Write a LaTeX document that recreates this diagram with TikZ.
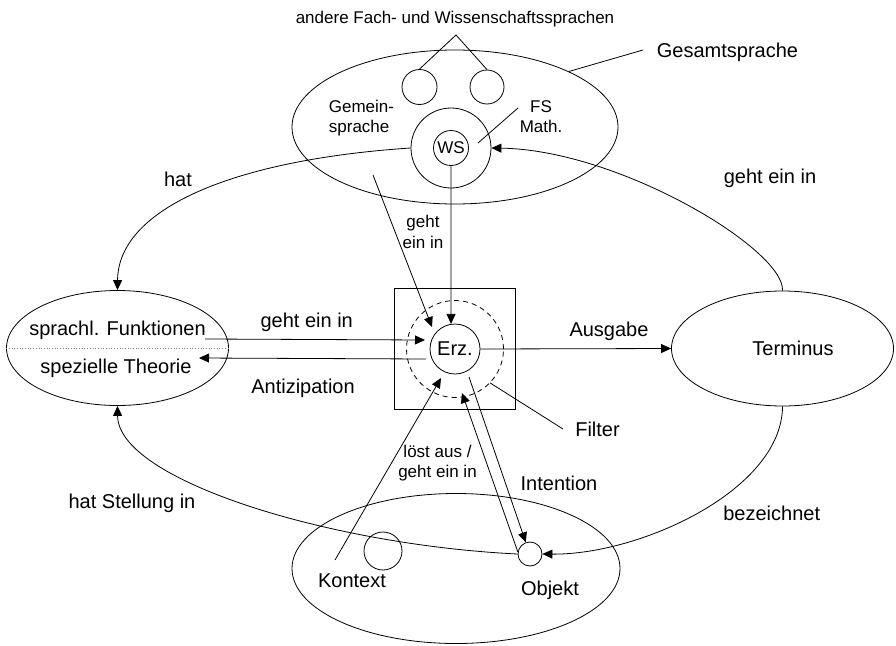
\documentclass[tikz,border=0pt]{standalone}
\usepackage{fontspec}
\setmainfont{Liberation Sans}
\usetikzlibrary{shapes.geometric,arrows.meta}
\begin{document}
\begin{tikzpicture}[x=1pt,y=-1pt,
  line width=0.8pt,
  big/.style={font=\fontsize{20}{24}\selectfont, inner sep=0pt, align=center},
  small/.style={font=\fontsize{17}{20.5}\selectfont, inner sep=0pt, align=center},
  ell/.style={draw, ellipse, inner sep=0pt},
  circ/.style={draw, circle, inner sep=0pt},
  arr/.style={-{Triangle[length=10pt,width=9pt]}},
]
\useasboundingbox (0,0) rectangle (896,645);

% main shapes
\node[ell, minimum width=326pt, minimum height=154pt] (gesamt) at (455,127) {};
\node[ell, minimum width=222pt, minimum height=115pt] (sprachl) at (117.5,348) {};
\node[ell, minimum width=222pt, minimum height=115pt] (terminus) at (782.5,348.5) {};
\node[ell, minimum width=328pt, minimum height=150pt] (unten) at (456,568.5) {};
\node[draw, rectangle, minimum size=121pt, inner sep=0pt] (box) at (454.5,348.5) {};
\node[circ, dashed, dash pattern=on 5pt off 4pt, minimum size=97pt] (filt) at (455,349) {};
\node[circ, minimum size=50pt, font=\fontsize{20}{24}\selectfont] (erz) at (455,349) {Erz.};

\node[circ, minimum size=80pt] (fsc) at (451,148) {};
\node[circ, minimum size=35pt, font=\fontsize{17}{20}\selectfont] (ws) at (451,148) {WS};
\node[circ, minimum size=35pt] (c1) at (419.5,87) {};
\node[circ, minimum size=34pt] (c2) at (487,87) {};
\node[circ, minimum size=38pt] (kon) at (383,551) {};
\node[circ, minimum size=24pt] (obj) at (530,554) {};

% dotted divider
\draw[gray, dotted, line width=0.7pt] (sprachl.west) -- (sprachl.east);

% coordinates
\coordinate (apex) at (456,35);
\coordinate (gsend) at (643,50);
\coordinate (fsa) at (518,108);
\coordinate (fsb) at (478,143);
\coordinate (gema) at (373,175);
\coordinate (gemb) at (432,327);
\coordinate (gla) at (205,339);
\coordinate (glb) at (425,340);
\coordinate (anta) at (426,359);
\coordinate (antb) at (199,358);
\coordinate (fila) at (563,429);
\coordinate (kona) at (335,560);
\coordinate (konb) at (441,378);
\coordinate (inta) at (462,393);
\coordinate (intb) at (469,377);

% connectors
\draw (c1.north) -- (apex) -- (c2.north);
\draw (gesamt.26) -- (gsend);
\draw (fsa) -- (fsb);
\draw[arr] (fsc.west) .. controls (230,160) and (118,210) .. (sprachl.north);
\draw[arr] (terminus.north) .. controls (785,250) and (620,150) .. (fsc.east);
\draw[arr] (ws.south) -- (erz.99);
\draw[arr] (gema) -- (gemb);
\draw[arr] (gla) -- (glb);
\draw[arr] (anta) -- (antb);
\draw[arr] (erz.east) -- (terminus.west);
\draw (filt.-44) -- (fila);
\draw[arr] (terminus.south) .. controls (782,490) and (640,555) .. (obj.east);
\draw[arr] (obj.west) .. controls (330,545) and (118,480) .. (sprachl.south);
\draw[arr] (kona) -- (konb);
\draw[arr] (obj.170) -- (inta);
\draw[arr] (intb) -- (obj.110);

% labels
\node[small] (andere) at (455,19) {andere Fach- und Wissenschaftssprachen};
\node[big] (gslab) at (727.5,52) {Gesamtsprache};
\node[small, align=left, anchor=west] (gem) at (328.5,118) {Gemein-\\sprache};
\node[small] (fs) at (541,116.5) {FS\\Math.};
\node[big] (hat) at (178,179) {hat};
\node[big] (gei1) at (770,178) {geht ein in};
\node[small] (gei2) at (423,232) {geht\\ein in};
\node[big] (sf) at (117.5,330) {sprachl. Funktionen};
\node[big] (st) at (116,368) {spezielle Theorie};
\node[big] (gei3) at (306.7,322) {geht ein in};
\node[big] (anti) at (303,388) {Antizipation};
\node[big] (ausg) at (609,331) {Ausgabe};
\node[big] (term) at (793,348) {Terminus};
\node[big] (filter) at (597.5,429) {Filter};
\node[small] (loest) at (437.5,463) {l\"ost aus /\\geht ein in};
\node[big] (inten) at (559,483) {Intention};
\node[big] (hsi) at (132,503) {hat Stellung in};
\node[big] (bez) at (771.7,513) {bezeichnet};
\node[big] (kontext) at (352,581) {Kontext};
\node[big] (objekt) at (550,590) {Objekt};
\end{tikzpicture}
\end{document}
